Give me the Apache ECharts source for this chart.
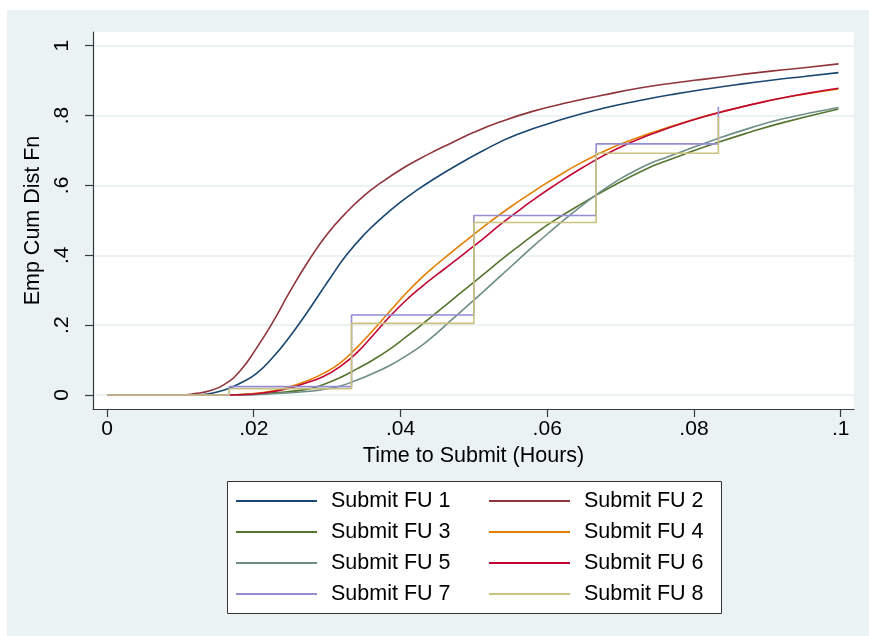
<!DOCTYPE html>
<html>
<head>
<meta charset="utf-8">
<script src="https://cdn.jsdelivr.net/npm/echarts@6/dist/echarts.min.js"></script>
<style>
html,body{margin:0;padding:0;background:#ffffff;width:869px;height:636px;overflow:hidden;}
#chart{position:absolute;left:7px;top:10px;width:862px;height:626px;background:#eaf2f3;}
</style>
</head>
<body>
<div id="chart"></div>
<script>
// ---- data ----
const seriesNames = ['Submit FU 1','Submit FU 2','Submit FU 3','Submit FU 4','Submit FU 5','Submit FU 6','Submit FU 7','Submit FU 8'];
const xTicks = [0, 0.02, 0.04, 0.06, 0.08, 0.1];
const yTicks = [0, 0.2, 0.4, 0.6, 0.8, 1];

const fu1X = [0, .012, .014, .016, .018, .0204, .0227, .0249, .0272, .0293, .0305, .0325, .035, .0375, .04, .0425, .045, .0468, .0513, .0558, .0622, .0675, .0726, .0775, .0817, .086, .0908, .095, .0997];
const fu1Y = [0, 0, .004, .014, .032, .062, .11, .167, .234, .30, .337, .397, .458, .508, .552, .59, .624, .647, .700, .745, .790, .820, .843, .862, .876, .889, .902, .912, .923];

const fu2X = [0, .010, .012, .014, .0159, .0181, .0204, .0227, .0249, .0275, .03, .0325, .035, .0375, .04, .0425, .045, .0468, .05, .0536, .058, .063, .0675, .0726, .0775, .0817, .086, .0908, .095, .0997];
const fu2Y = [0, 0, .004, .012, .029, .068, .135, .212, .295, .385, .46, .52, .57, .61, .645, .675, .702, .72, .752, .782, .812, .838, .858, .879, .894, .905, .916, .928, .937, .948];

const fu3X = [0, .015, .02, .0227, .0272, .0295, .0318, .034, .0363, .0386, .0405, .0424, .0447, .0468, .049, .0513, .0535, .0558, .058, .0604, .0649, .0695, .074, .0762, .0785, .0831, .0876, .092, .0997];
const fu3Y = [0, 0, .003, .006, .016, .03, .05, .074, .101, .132, .162, .193, .232, .268, .306, .345, .383, .421, .456, .492, .55, .605, .652, .67, .688, .722, .752, .779, .819];

const fu4X = [0, .016, .02, .0227, .025, .0272, .0295, .0318, .034, .0363, .0386, .0408, .043, .045, .0468, .049, .0513, .0535, .0558, .058, .0604, .0649, .0695, .074, .0795, .085, .0908, .095, .0997];
const fu4Y = [0, 0, .004, .012, .024, .04, .062, .092, .135, .186, .241, .292, .338, .375, .406, .443, .481, .516, .55, .581, .613, .668, .714, .749, .786, .817, .845, .861, .876];

const fu5X = [0, .018, .022, .0272, .0295, .0318, .034, .0363, .0386, .041, .0431, .045, .0468, .049, .0513, .0535, .0558, .058, .0604, .0625, .0649, .067, .0695, .0718, .074, .0762, .0785, .0831, .0876, .092, .0997];
const fu5Y = [0, 0, .003, .01, .016, .026, .042, .062, .085, .115, .145, .178, .212, .253, .296, .338, .382, .424, .468, .505, .545, .578, .613, .64, .663, .68, .698, .733, .764, .79, .823];

const fu6X = [0, .0167, .02, .0227, .025, .0272, .0295, .0318, .034, .0363, .0386, .0408, .043, .045, .0468, .049, .0513, .0535, .0558, .058, .0604, .0649, .0695, .074, .0795, .085, .0908, .095, .0997];
const fu6Y = [0, 0, .003, .01, .02, .035, .053, .082, .12, .172, .226, .272, .312, .345, .374, .41, .448, .486, .523, .557, .592, .652, .705, .745, .785, .817, .845, .862, .878];

const fu7X = [0, .01667, .01667, .03333, .03333, .05, .05, .06667, .06667, .08333, .08333];
const fu7Y = [0, 0, .024, .024, .229, .229, .514, .514, .719, .719, .825];

const fu8X = [0, .01667, .01667, .03333, .03333, .05, .05, .06667, .06667, .08333, .08333];
const fu8Y = [0, 0, .018, .018, .205, .205, .494, .494, .692, .692, .796];

// ---- styling ----
const colors = ['#1a476f', '#90353b', '#55752f', '#e37e00', '#6e8e84', '#c10534', '#938dd2', '#cac27e'];
const FONT = '"Liberation Sans", Arial, Helvetica, sans-serif';

const xs = [fu1X, fu2X, fu3X, fu4X, fu5X, fu6X, fu7X, fu8X];
const ys = [fu1Y, fu2Y, fu3Y, fu4Y, fu5Y, fu6Y, fu7Y, fu8Y];

function fmt(v) {
  if (Math.abs(v) < 1e-12) return '0';
  if (Math.abs(v - 1) < 1e-12) return '1';
  return String(+v.toFixed(4)).replace(/^0\./, '.');
}

const series = seriesNames.map((name, i) => ({
  name: name,
  type: 'line',
  data: xs[i].map((x, k) => [x, ys[i][k]]),
  symbol: 'none',
  smooth: i < 6 ? 0.5 : false,
  lineStyle: { color: colors[i], width: 1.6 },
  itemStyle: { color: colors[i] },
  animation: false
}));

const legendCommon = {
  orient: 'vertical',
  top: 471,
  icon: 'rect',
  itemWidth: 81,
  itemHeight: 2,
  itemGap: 9,
  selectedMode: false,
  textStyle: { fontFamily: FONT, fontSize: 21.5, color: '#000', lineHeight: 22, padding: [0, 0, 0, 9] }
};

const chart = echarts.init(document.getElementById('chart'), null, { renderer: 'canvas' });
chart.setOption({
  backgroundColor: '#eaf2f3',
  animation: false,
  textStyle: { fontFamily: FONT },
  grid: { left: 86, right: 15, top: 22, bottom: 227, show: true, backgroundColor: '#ffffff', borderWidth: 0 },
  xAxis: {
    type: 'value',
    min: -0.001908, max: 0.101813,
    name: 'Time to Submit (Hours)',
    nameLocation: 'middle',
    nameGap: 29,
    nameTextStyle: { fontFamily: FONT, fontSize: 21.5, color: '#000' },
    axisLine: { show: true, onZero: false, lineStyle: { color: '#3a3a3a', width: 1.2 } },
    axisTick: { show: true, length: 8, customValues: xTicks, lineStyle: { color: '#3a3a3a', width: 1.2 } },
    axisLabel: { customValues: xTicks, formatter: fmt, fontFamily: FONT, fontSize: 21, color: '#000', margin: 10, showMinLabel: true, showMaxLabel: true },
    splitLine: { show: false }
  },
  yAxis: {
    type: 'value',
    min: -0.04008, max: 1.03922,
    name: 'Emp Cum Dist Fn',
    nameLocation: 'middle',
    nameGap: 43,
    nameRotate: 90,
    nameTextStyle: { fontFamily: FONT, fontSize: 21.5, color: '#000' },
    axisLine: { show: true, onZero: false, lineStyle: { color: '#3a3a3a', width: 1.2 } },
    axisTick: { show: true, length: 8, customValues: yTicks, lineStyle: { color: '#3a3a3a', width: 1.2 } },
    axisLabel: { customValues: yTicks, formatter: fmt, rotate: 90, fontFamily: FONT, fontSize: 21, color: '#000', margin: 20 },
    splitLine: { show: true, lineStyle: { color: '#e6eff1', width: 1.6 } }
  },
  legend: [
    Object.assign({}, legendCommon, { left: 220, padding: [9, 0, 9, 9], data: ['Submit FU 1', 'Submit FU 3', 'Submit FU 5', 'Submit FU 7'] }),
    Object.assign({}, legendCommon, { left: 482, padding: [9, 0, 9, 0], data: ['Submit FU 2', 'Submit FU 4', 'Submit FU 6', 'Submit FU 8'] })
  ],
  graphic: [{
    type: 'rect',
    left: 220, top: 471,
    shape: { width: 494, height: 132 },
    style: { fill: '#ffffff', stroke: '#333333', lineWidth: 1 },
    z: -1
  }],
  series: series
});
</script>
</body>
</html>
